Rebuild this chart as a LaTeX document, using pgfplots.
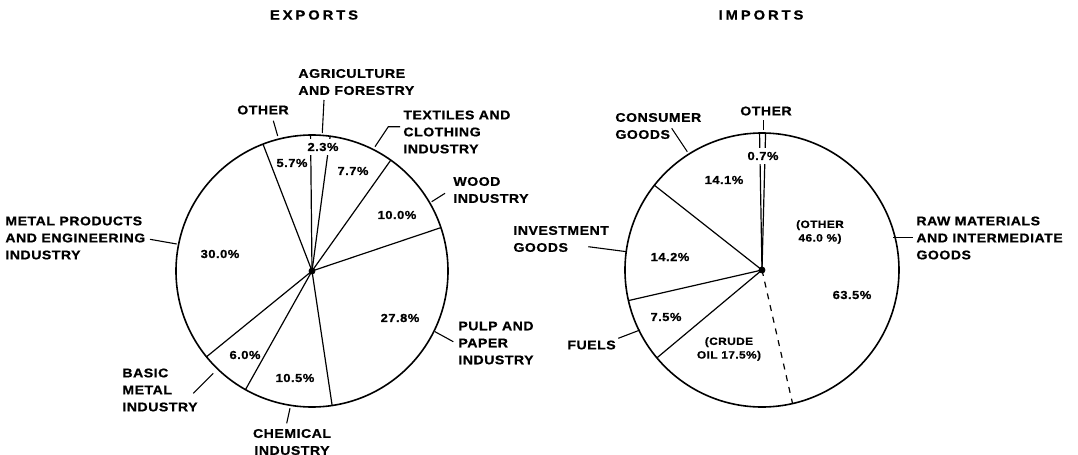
\documentclass[border=0pt]{standalone}
\usepackage{pgfplots}
\pgfplotsset{compat=1.18}
\usepgfplotslibrary{polar}
\usepackage{fontspec}
\setmainfont{Liberation Sans}
\newfontfamily\lab{Liberation Sans}[FakeStretch=1.12,LetterSpace=4,BoldFeatures={FakeBold=0.8}]

\tikzset{
  lbl/.style={font=\lab\bfseries\fontsize{6.3}{8.5}\selectfont, inner sep=0pt, align=left, anchor=west},
  clbl/.style={lbl, align=center, anchor=center},
  pct/.style={font=\lab\bfseries\fontsize{5.8}{7}\selectfont, inner sep=0pt, anchor=center},
  gap/.style={fill=white, inner xsep=0.3pt, inner ysep=2pt},
  ttl/.style={font=\lab\bfseries\fontsize{6.6}{8}\selectfont\addfontfeatures{LetterSpace=22}, inner sep=0pt},
  lead/.style={line width=0.55pt},
}
\pgfplotsset{
  pie/.style={
    scale only axis, width=136pt, height=136pt,
    xmin=0, xmax=360, ymin=0, ymax=1,
    xtick=\empty, ytick=\empty,
    axis line style={line width=0.8pt},
    y axis line style={draw=none},
    clip=false,
  },
  seg/.style={black, line width=0.6pt, mark=none},
  hub/.style={black, only marks, mark=*, mark size=1.5pt},
}

\begin{document}
\begin{tikzpicture}
\path (0,0) rectangle (539pt,-227.5pt);

% exports: boundaries as cumulative shares (%), clockwise from the top
\begin{polaraxis}[pie, at={(156pt,-135.5pt)}, anchor=origin,
  x filter/.expression={90.6-3.6*x}]
\addplot[seg] coordinates {(0,0) (0,1)};      % other | agriculture
\addplot[seg] coordinates {(2.3,0) (2.3,1)};  % agriculture 2.3
\addplot[seg] coordinates {(10.0,0) (10.0,1)};% textiles 7.7
\addplot[seg] coordinates {(20.0,0) (20.0,1)};% wood 10.0
\addplot[seg] coordinates {(47.8,0) (47.8,1)};% pulp 27.8
\addplot[seg] coordinates {(58.3,0) (58.3,1)};% chemical 10.5
\addplot[seg] coordinates {(64.3,0) (64.3,1)};% basic metal 6.0
\addplot[seg] coordinates {(94.3,0) (94.3,1)};% metal products 30.0, other 5.7
\addplot[hub] coordinates {(0,0)};
\end{polaraxis}

% imports: counter-clockwise from the top
\begin{polaraxis}[pie, width=137pt, height=137pt, at={(381pt,-135pt)}, anchor=origin,
  x filter/.expression={88.5+3.6*x}]
\addplot[seg] coordinates {(0,0) (0,1)};      % raw materials | other
\addplot[seg] coordinates {(0.7,0) (0.7,1)};  % other 0.7
\addplot[seg] coordinates {(14.8,0) (14.8,1)};% consumer 14.1
\addplot[seg] coordinates {(29.0,0) (29.0,1)};% investment 14.2
\addplot[seg] coordinates {(36.5,0) (36.5,1)};% fuels 7.5
\addplot[seg, dashed] coordinates {(54.0,0) (54.0,1)};% crude oil 17.5, other 46.0
\addplot[hub] coordinates {(0,0)};
\end{polaraxis}

\begin{scope}[x=0.5pt, y=-0.5pt]
\node[ttl] at (314,15) {EXPORTS};
\node[ttl] at (761,15) {IMPORTS};

% exports labels
\node[clbl] at (263,110) {OTHER};
\node[lbl] at (298,82) {AGRICULTURE\\AND FORESTRY};
\node[lbl] at (403,132) {TEXTILES AND\\CLOTHING\\INDUSTRY};
\node[lbl] at (453,190) {WOOD\\INDUSTRY};
\node[lbl] at (458,343) {PULP AND\\PAPER\\INDUSTRY};
\node[clbl] at (292,442) {CHEMICAL\\INDUSTRY};
\node[lbl] at (122,390) {BASIC\\METAL\\INDUSTRY};
\node[lbl] at (5,238) {METAL PRODUCTS\\AND ENGINEERING\\INDUSTRY};

\draw[lead] (273.3,120.7) -- (277.7,136);
\draw[lead] (324,100) -- (322.3,133);
\draw[lead] (375,146.7) -- (388.3,126.7) -- (400,126.7);
\draw[lead] (431.7,201.7) -- (445,193.3);
\draw[lead] (435,331.7) -- (453.3,341.7);
\draw[lead] (290,408.3) -- (286.7,423.3);
\draw[lead] (213.3,373.3) -- (193.3,393.3);
\draw[lead] (176.7,244) -- (150,239.3);

\node[pct, gap] at (323,147) {2.3\%};
\node[pct] at (292,163) {5.7\%};
\node[pct] at (353,171) {7.7\%};
\node[pct] at (397,215) {10.0\%};
\node[pct] at (220,254) {30.0\%};
\node[pct] at (400,318) {27.8\%};
\node[pct] at (245,355) {6.0\%};
\node[pct] at (295,378) {10.5\%};

% imports labels
\node[lbl] at (615,126) {CONSUMER\\GOODS};
\node[clbl] at (766,111) {OTHER};
\node[lbl] at (513,239) {INVESTMENT\\GOODS};
\node[lbl] at (567,345) {FUELS};
\node[lbl] at (916,238) {RAW MATERIALS\\AND INTERMEDIATE\\GOODS};

\draw[lead] (671.7,128.3) -- (687.3,151.7);
\draw[lead] (763.3,120) -- (763.3,130);
\draw[lead] (588.3,246.7) -- (626.7,251.7);
\draw[lead] (618.3,338.3) -- (640,330);
\draw[lead] (893.3,237.7) -- (913.3,237.7);

\node[pct, gap] at (763,156) {0.7\%};
\node[pct] at (724,180) {14.1\%};
\node[pct] at (670,257) {14.2\%};
\node[pct] at (666,317) {7.5\%};
\node[pct, align=center, font=\lab\bfseries\fontsize{5.3}{6.8}\selectfont] at (729,349) {(CRUDE\\OIL 17.5\%)};
\node[pct, align=center, font=\lab\bfseries\fontsize{5.3}{6.8}\selectfont] at (820,232) {(OTHER\\46.0 \%)};
\node[pct] at (852,295) {63.5\%};
\end{scope}
\end{tikzpicture}
\end{document}
